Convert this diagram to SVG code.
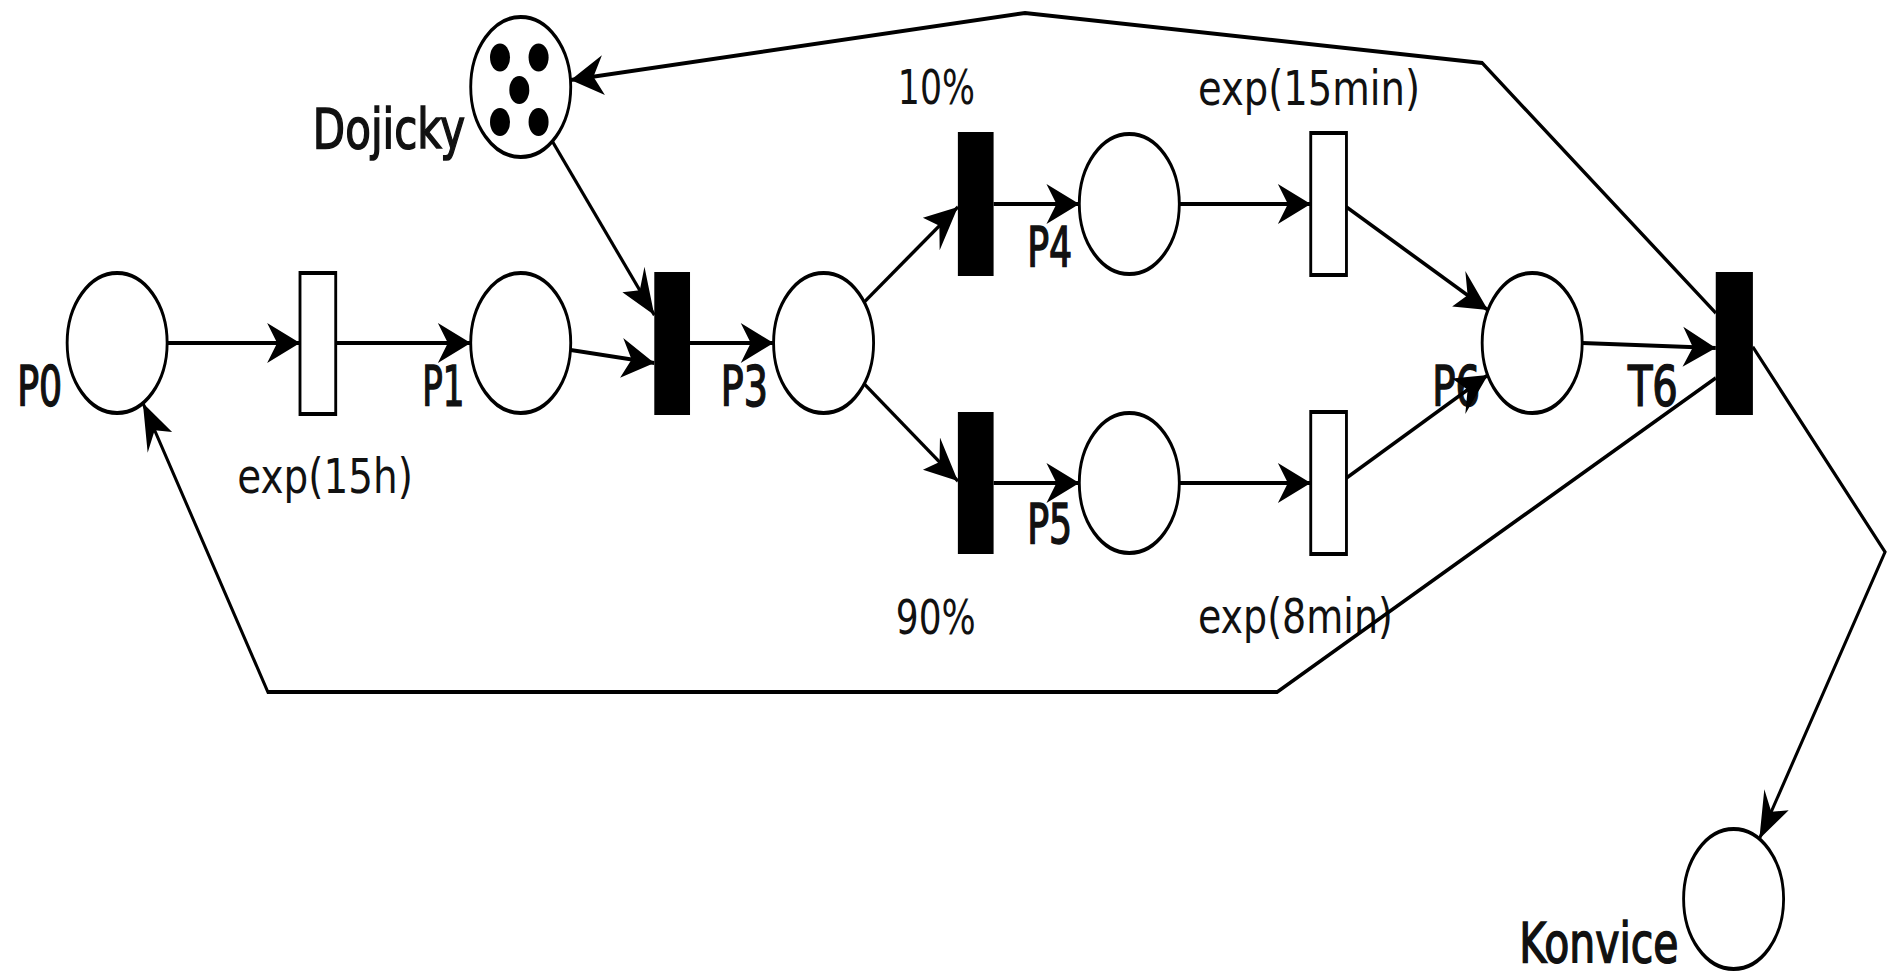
<svg xmlns="http://www.w3.org/2000/svg" width="1893" height="971" viewBox="0 0 1893 971">
  <defs>
    <style>
      .place { fill: #fff; stroke: #000; stroke-width: 4; }
      .timed { fill: #fff; stroke: #000; stroke-width: 4; }
      .imm { fill: #000; }
      .token { fill: #000; }
      .arc { fill: none; stroke: #000; stroke-width: 4; stroke-linejoin: miter; marker-end: url(#arrow); }
      .name { font-family: "DejaVu Sans", "Liberation Sans", sans-serif; font-size: 55px; fill: #111; stroke: #111; stroke-width: 1.6; }
      .attr { font-family: "DejaVu Sans", "Liberation Sans", sans-serif; font-size: 48px; fill: #111; }
    </style>
    <marker id="arrow" markerUnits="userSpaceOnUse" viewBox="-52 -27 57 54" markerWidth="57" markerHeight="54" refX="0" refY="0" orient="auto">
      <path d="M0,0 L-46,-20 L-32,0 L-46,20 Z" fill="#000"/>
    </marker>
  </defs>
  <rect width="1893" height="971" fill="#fff"/>

  <!-- whole net is laid out on a wider grid and compressed horizontally -->
  <g transform="scale(0.7143,1)">
    <g id="nodes">
      <g id="P0">
        <circle class="place" cx="164" cy="343" r="70"/>
        <text class="name" x="24" y="405" textLength="63" lengthAdjust="spacingAndGlyphs">P0</text>
      </g>
      <g id="T0">
        <rect class="timed" x="420" y="273" width="50" height="141"/>
        <text class="attr" x="332" y="493" textLength="246" lengthAdjust="spacingAndGlyphs">exp(15h)</text>
      </g>
      <g id="P1">
        <circle class="place" cx="729" cy="343" r="70"/>
        <text class="name" x="591" y="405" textLength="59" lengthAdjust="spacingAndGlyphs">P1</text>
      </g>
      <g id="Dojicky">
        <circle class="place" cx="729" cy="87" r="70"/>
        <circle class="token" cx="700" cy="57.5" r="14"/>
        <circle class="token" cx="754" cy="57.5" r="14"/>
        <circle class="token" cx="727" cy="90" r="14"/>
        <circle class="token" cx="700" cy="122" r="14"/>
        <circle class="token" cx="754" cy="122" r="14"/>
        <text class="name" x="438" y="148" textLength="213" lengthAdjust="spacingAndGlyphs">Dojicky</text>
      </g>
      <g id="T1">
        <rect class="imm" x="916" y="272" width="50" height="143"/>
      </g>
      <g id="P3">
        <circle class="place" cx="1153" cy="343" r="70"/>
        <text class="name" x="1009" y="405" textLength="66" lengthAdjust="spacingAndGlyphs">P3</text>
      </g>
      <g id="T2">
        <rect class="imm" x="1341" y="132" width="50" height="144"/>
        <text class="attr" x="1257" y="104" textLength="108" lengthAdjust="spacingAndGlyphs">10%</text>
      </g>
      <g id="T3">
        <rect class="imm" x="1341" y="412" width="50" height="142"/>
        <text class="attr" x="1254" y="634" textLength="112" lengthAdjust="spacingAndGlyphs">90%</text>
      </g>
      <g id="P4">
        <circle class="place" cx="1581" cy="204" r="70"/>
        <text class="name" x="1438" y="266" textLength="63" lengthAdjust="spacingAndGlyphs">P4</text>
      </g>
      <g id="P5">
        <circle class="place" cx="1581" cy="483" r="70"/>
        <text class="name" x="1438" y="543" textLength="63" lengthAdjust="spacingAndGlyphs">P5</text>
      </g>
      <g id="T4">
        <rect class="timed" x="1835" y="133" width="50" height="142"/>
        <text class="attr" x="1677" y="105" textLength="311" lengthAdjust="spacingAndGlyphs">exp(15min)</text>
      </g>
      <g id="T5">
        <rect class="timed" x="1835" y="412" width="50" height="142"/>
        <text class="attr" x="1677" y="633" textLength="273" lengthAdjust="spacingAndGlyphs">exp(8min)</text>
      </g>
      <g id="P6">
        <circle class="place" cx="2145" cy="343" r="70"/>
        <text class="name" x="2005" y="405" textLength="67" lengthAdjust="spacingAndGlyphs">P6</text>
      </g>
      <g id="T6">
        <rect class="imm" x="2402" y="272" width="52" height="143"/>
        <text class="name" x="2279" y="405" textLength="70" lengthAdjust="spacingAndGlyphs">T6</text>
      </g>
      <g id="Konvice">
        <circle class="place" cx="2427" cy="899" r="70"/>
        <text class="name" x="2127" y="962" textLength="223" lengthAdjust="spacingAndGlyphs">Konvice</text>
      </g>
    </g>

    <g id="connectors">
      <path class="arc" d="M234,343 L420,343"/>
      <path class="arc" d="M470,343 L659,343"/>
      <path class="arc" d="M799,350 L916,363"/>
      <path class="arc" d="M773,141 L916,315"/>
      <path class="arc" d="M966,343 L1083,343"/>
      <path class="arc" d="M1210,302 L1341,207"/>
      <path class="arc" d="M1210,384 L1341,481"/>
      <path class="arc" d="M1391,204 L1511,204"/>
      <path class="arc" d="M1651,204 L1835,204"/>
      <path class="arc" d="M1391,483 L1511,483"/>
      <path class="arc" d="M1651,483 L1835,483"/>
      <path class="arc" d="M1885,207 L2083,310"/>
      <path class="arc" d="M1885,478 L2083,375"/>
      <path class="arc" d="M2215,343 L2402,348"/>
      <path class="arc" d="M2402,313 L2075,63 L1435,13 L799,80"/>
      <path class="arc" d="M2454,347 L2639,552 L2463,839"/>
      <path class="arc" d="M2402,378 L1788,692 L375,692 L200,403"/>
    </g>
  </g>
</svg>
